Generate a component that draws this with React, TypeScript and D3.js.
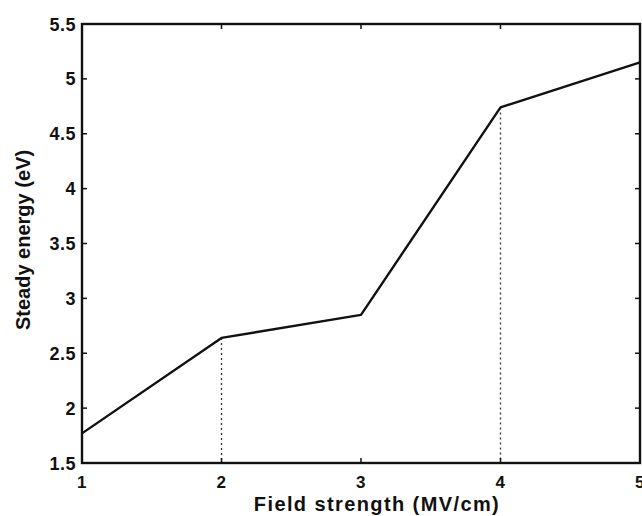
import React from "react";
import * as d3 from "d3";

const fieldStrength = [1, 2, 3, 4, 5];
const steadyEnergy = [1.77, 2.64, 2.85, 4.74, 5.15];
const dottedAt = [2, 4];
const xTicks = [1, 2, 3, 4, 5];
const yTicks = [1.5, 2, 2.5, 3, 3.5, 4, 4.5, 5, 5.5];

const W = 642;
const H = 516;
const M = { left: 82, right: 2, top: 24, bottom: 53 };

export default function App() {
  const x = d3.scaleLinear().domain([1, 5]).range([M.left, W - M.right]);
  const y = d3.scaleLinear().domain([1.5, 5.5]).range([H - M.bottom, M.top]);
  const pts = fieldStrength.map((f, i) => [f, steadyEnergy[i]] as [number, number]);
  const line = d3.line<[number, number]>().x((d) => x(d[0])).y((d) => y(d[1]))(pts) || "";
  const font = "'Liberation Sans', Arial, Helvetica, sans-serif";
  const x0 = x(1), x1 = x(5), y0 = y(1.5), y1 = y(5.5);
  const tl = 5;
  return (
    <svg width={W} height={H} style={{ position: "absolute", left: 0, top: 0, background: "#fff" }}>
      <rect x={0} y={0} width={W} height={H} fill="#fff" />
      {dottedAt.map((f) => {
        const i = fieldStrength.indexOf(f);
        return (
          <line key={f} x1={x(f)} x2={x(f)} y1={y(steadyEnergy[i])} y2={y0}
            stroke="#333" strokeWidth={1.3} strokeDasharray="2,3" />
        );
      })}
      <path d={line} fill="none" stroke="#111" strokeWidth={2.4} strokeLinejoin="round" />
      {xTicks.map((t) => (
        <g key={"x" + t}>
          <line x1={x(t)} x2={x(t)} y1={y0} y2={y0 - tl} stroke="#111" strokeWidth={1.5} />
          <line x1={x(t)} x2={x(t)} y1={y1} y2={y1 + tl} stroke="#111" strokeWidth={1.5} />
          <text x={x(t)} y={y0 + 25} textAnchor="middle" fontFamily={font} fontWeight="bold" fontSize={17} letterSpacing={0.5} fill="#111">{t}</text>
        </g>
      ))}
      {yTicks.map((t) => (
        <g key={"y" + t}>
          <line x1={x0} x2={x0 + tl} y1={y(t)} y2={y(t)} stroke="#111" strokeWidth={1.5} />
          <line x1={x1} x2={x1 - tl} y1={y(t)} y2={y(t)} stroke="#111" strokeWidth={1.5} />
          <text x={x0 - 6} y={y(t) + 6.5} textAnchor="end" fontFamily={font} fontWeight="bold" fontSize={18} letterSpacing={0.5} fill="#111">{t}</text>
        </g>
      ))}
      <rect x={x0} y={y1} width={x1 - x0} height={y0 - y1} fill="none" stroke="#111" strokeWidth={2.4} />
      <text x={(x0 + x1) / 2 + 16} y={511} textAnchor="middle" fontFamily={font} fontWeight="bold" fontSize={20} letterSpacing={1.4} fill="#111">Field strength (MV/cm)</text>
      <text transform={`translate(30,${240}) rotate(-90)`} textAnchor="middle" fontFamily={font} fontWeight="bold" fontSize={20} fill="#111">Steady energy (eV)</text>
    </svg>
  );
}
